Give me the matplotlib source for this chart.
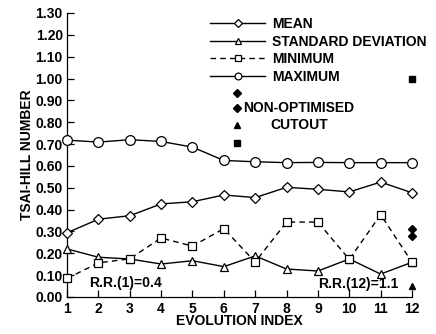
import matplotlib
matplotlib.use("Agg")
import matplotlib.pyplot as plt

plt.rcParams['font.family'] = ['Liberation Sans', 'DejaVu Sans']
plt.rcParams['font.weight'] = 'bold'
plt.rcParams['axes.labelweight'] = 'bold'

# Evolution index and Tsai-Hill statistics per generation
evolution_index = [1, 2, 3, 4, 5, 6, 7, 8, 9, 10, 11, 12]
mean_vals = [0.294, 0.356, 0.372, 0.426, 0.436, 0.467, 0.455, 0.502, 0.493, 0.481, 0.526, 0.477]
std_vals = [0.220, 0.182, 0.174, 0.151, 0.166, 0.139, 0.188, 0.128, 0.119, 0.174, 0.105, 0.159]
min_vals = [0.085, 0.156, 0.175, 0.270, 0.233, 0.313, 0.160, 0.343, 0.343, 0.172, 0.377, 0.159]
max_vals = [0.718, 0.709, 0.720, 0.712, 0.686, 0.625, 0.619, 0.615, 0.616, 0.615, 0.615, 0.615]

# Non-optimised cutout reference values (plotted at the last index)
nonopt_x = 12
nonopt_diamonds = [0.31, 0.28]
nonopt_triangle = 0.05
nonopt_square = 1.00

y_ticks = [0.00, 0.10, 0.20, 0.30, 0.40, 0.50, 0.60, 0.70, 0.80, 0.90,
           1.00, 1.10, 1.20, 1.30]

fig = plt.figure(figsize=(4.36, 3.34), dpi=100)
ax = fig.add_axes([0.1537, 0.1108, 0.7913, 0.8503])

fs = 10
lw = 1.0
common = dict(color='black', linewidth=lw, markerfacecolor='white',
              markeredgecolor='black', markeredgewidth=0.9, clip_on=False, zorder=3)

ax.plot(evolution_index, mean_vals, marker='D', markersize=5.5, linestyle='-',
        label='MEAN', **common)
ax.plot(evolution_index, std_vals, marker='^', markersize=6, linestyle='-',
        label='STANDARD DEVIATION', **common)
ax.plot(evolution_index, min_vals, marker='s', markersize=5.5, linestyle=(0, (4, 3)),
        label='MINIMUM', **common)
ax.plot(evolution_index, max_vals, marker='o', markersize=7, linestyle='-',
        label='MAXIMUM', **common)

filled = dict(color='black', linestyle='none', clip_on=False, zorder=4)
ax.plot([nonopt_x] * len(nonopt_diamonds), nonopt_diamonds, marker='D', markersize=4, **filled)
ax.plot([nonopt_x], [nonopt_triangle], marker='^', markersize=4.5, **filled)
ax.plot([nonopt_x], [nonopt_square], marker='s', markersize=4, **filled)

ax.set_xlim(1, 12)
ax.set_ylim(0, 1.3)
ax.set_xticks(evolution_index)
ax.set_yticks(y_ticks)
ax.set_yticklabels([f"{v:.2f}" for v in y_ticks])
ax.tick_params(direction='in', length=5, width=0.9, labelsize=fs)
ax.tick_params(axis='x', pad=3.5)
ax.tick_params(axis='y', pad=3)
for side in ('top', 'right'):
    ax.spines[side].set_visible(False)
for side in ('left', 'bottom'):
    ax.spines[side].set_linewidth(0.9)

ax.set_xlabel('EVOLUTION INDEX', fontsize=fs, labelpad=-1)
ax.set_ylabel('TSAI-HILL NUMBER', fontsize=fs, labelpad=1)

leg = ax.legend(loc='upper left', bbox_to_anchor=(0.414, 0.985), frameon=False,
                fontsize=fs, handlelength=4.0, handletextpad=0.45,
                labelspacing=0.25, borderpad=0, borderaxespad=0, markerscale=0.7)

# Key for the non-optimised cutout symbols
kx = 0.493
key = [('D', 0.718, 4), ('D', 0.665, 4), ('^', 0.606, 4.5), ('s', 0.542, 4)]
for m, ky, ms in key:
    ax.plot([kx], [ky], marker=m, markersize=ms, color='black', linestyle='none',
            transform=ax.transAxes, clip_on=False)
ax.text(0.51, 0.665, 'NON-OPTIMISED', transform=ax.transAxes, fontsize=fs,
        va='center', ha='left')
ax.text(0.588, 0.606, 'CUTOUT', transform=ax.transAxes, fontsize=fs,
        va='center', ha='left')

ax.text(2.85, 0.064, 'R.R.(1)=0.4', fontsize=fs, ha='center', va='center')
ax.text(10.3, 0.06, 'R.R.(12)=1.1', fontsize=fs, ha='center', va='center')

fig.savefig('out.png', dpi=100)
